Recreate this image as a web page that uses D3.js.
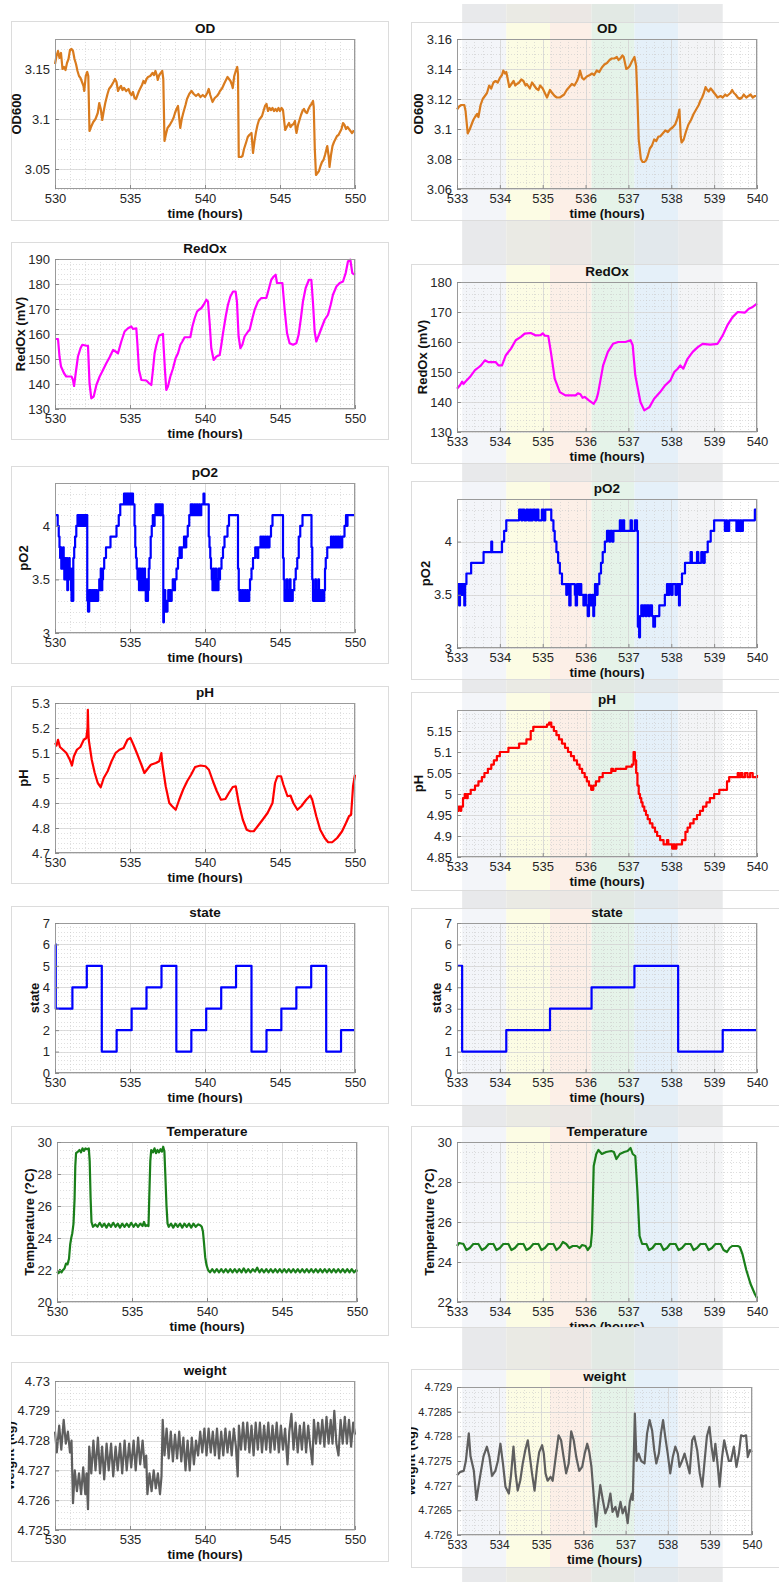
<!DOCTYPE html>
<html>
<head>
<meta charset="utf-8">
<script src="https://cdn.jsdelivr.net/npm/d3@7"></script>
<style>
  body { margin: 0; background: #fff; }
  svg { display: block; }
</style>
</head>
<body>
<div id="fig"></div>
<script>
// ---- data: [time (hours), value] ----
var xTicksLeft = [530, 535, 540, 545, 550];
var xTicksRight = [533, 534, 535, 536, 537, 538, 539, 540];

var odLeft = [[530.0,3.155],[530.1,3.163],[530.2,3.168],[530.3,3.161],[530.4,3.166],[530.5,3.150],[530.6,3.152],[530.7,3.149],[530.8,3.156],[530.9,3.160],[531.0,3.169],[531.1,3.170],[531.2,3.168],[531.3,3.160],[531.4,3.155],[531.5,3.148],[531.6,3.143],[531.7,3.141],[531.8,3.137],[531.9,3.133],[531.95,3.128],[532.05,3.143],[532.15,3.147],[532.22,3.143],[532.3,3.088],[532.4,3.092],[532.55,3.097],[532.7,3.100],[532.85,3.106],[532.95,3.116],[533.05,3.110],[533.15,3.099],[533.25,3.108],[533.35,3.116],[533.5,3.125],[533.6,3.130],[533.75,3.133],[533.9,3.137],[534.0,3.140],[534.1,3.137],[534.2,3.128],[534.3,3.131],[534.4,3.133],[534.5,3.129],[534.6,3.131],[534.75,3.128],[534.9,3.130],[535.0,3.126],[535.1,3.124],[535.2,3.127],[535.3,3.121],[535.4,3.120],[535.5,3.124],[535.6,3.128],[535.7,3.131],[535.8,3.134],[535.9,3.138],[536.0,3.136],[536.1,3.140],[536.2,3.142],[536.35,3.143],[536.5,3.146],[536.6,3.144],[536.7,3.148],[536.8,3.143],[536.85,3.139],[536.95,3.144],[537.05,3.146],[537.15,3.148],[537.22,3.140],[537.3,3.078],[537.4,3.085],[537.5,3.091],[537.65,3.094],[537.8,3.098],[537.9,3.101],[538.0,3.106],[538.1,3.110],[538.2,3.113],[538.3,3.098],[538.35,3.091],[538.45,3.100],[538.55,3.106],[538.7,3.114],[538.8,3.120],[538.95,3.125],[539.1,3.128],[539.25,3.125],[539.4,3.123],[539.55,3.125],[539.7,3.122],[539.85,3.124],[540.0,3.122],[540.15,3.126],[540.25,3.130],[540.35,3.124],[540.5,3.117],[540.65,3.121],[540.8,3.123],[540.9,3.125],[541.0,3.128],[541.15,3.131],[541.3,3.136],[541.4,3.139],[541.5,3.142],[541.6,3.140],[541.7,3.138],[541.8,3.134],[541.85,3.131],[541.95,3.143],[542.05,3.148],[542.15,3.152],[542.2,3.145],[542.25,3.062],[542.4,3.062],[542.5,3.063],[542.6,3.070],[542.75,3.077],[542.85,3.082],[542.95,3.084],[543.1,3.086],[543.2,3.066],[543.3,3.078],[543.4,3.087],[543.5,3.094],[543.6,3.099],[543.7,3.101],[543.8,3.103],[543.9,3.108],[544.0,3.113],[544.1,3.115],[544.2,3.108],[544.3,3.111],[544.4,3.109],[544.5,3.111],[544.6,3.108],[544.7,3.110],[544.8,3.108],[544.9,3.111],[545.0,3.108],[545.1,3.111],[545.2,3.109],[545.3,3.095],[545.35,3.089],[545.45,3.092],[545.6,3.096],[545.7,3.092],[545.8,3.094],[545.9,3.095],[546.0,3.098],[546.05,3.090],[546.1,3.086],[546.2,3.094],[546.3,3.099],[546.4,3.104],[546.5,3.108],[546.6,3.110],[546.7,3.107],[546.8,3.106],[546.9,3.110],[547.0,3.113],[547.1,3.115],[547.2,3.118],[547.25,3.112],[547.32,3.070],[547.4,3.044],[547.5,3.046],[547.6,3.048],[547.7,3.053],[547.8,3.057],[547.9,3.059],[548.0,3.064],[548.1,3.070],[548.15,3.073],[548.25,3.062],[548.3,3.052],[548.4,3.064],[548.5,3.073],[548.6,3.077],[548.7,3.080],[548.8,3.083],[548.9,3.084],[549.0,3.087],[549.1,3.090],[549.2,3.096],[549.3,3.094],[549.4,3.090],[549.5,3.092],[549.6,3.090],[549.7,3.088],[549.8,3.086],[549.9,3.088],[550.0,3.088]];

var odRight = [[533.0,3.113],[533.05,3.115],[533.1,3.116],[533.17,3.116],[533.2,3.112],[533.25,3.097],[533.3,3.100],[533.38,3.106],[533.42,3.108],[533.47,3.110],[533.5,3.108],[533.55,3.116],[533.6,3.120],[533.65,3.122],[533.7,3.124],[533.75,3.129],[533.8,3.127],[533.85,3.131],[533.9,3.132],[533.95,3.131],[534.0,3.134],[534.05,3.136],[534.08,3.139],[534.12,3.137],[534.15,3.138],[534.2,3.131],[534.22,3.128],[534.27,3.130],[534.32,3.132],[534.36,3.129],[534.4,3.130],[534.45,3.131],[534.5,3.133],[534.55,3.132],[534.6,3.129],[534.63,3.130],[534.7,3.127],[534.75,3.131],[534.8,3.129],[534.85,3.127],[534.9,3.126],[534.94,3.129],[535.0,3.127],[535.05,3.124],[535.1,3.121],[535.17,3.126],[535.22,3.124],[535.28,3.122],[535.33,3.121],[535.4,3.121],[535.45,3.122],[535.5,3.123],[535.56,3.126],[535.62,3.128],[535.68,3.130],[535.74,3.129],[535.8,3.132],[535.84,3.135],[535.87,3.139],[535.92,3.134],[535.96,3.133],[536.03,3.135],[536.1,3.136],[536.15,3.137],[536.2,3.136],[536.26,3.139],[536.32,3.138],[536.38,3.141],[536.44,3.143],[536.5,3.144],[536.56,3.146],[536.61,3.147],[536.67,3.147],[536.73,3.148],[536.77,3.146],[536.81,3.147],[536.86,3.149],[536.89,3.148],[536.92,3.144],[536.95,3.140],[537.0,3.141],[537.03,3.142],[537.08,3.145],[537.12,3.147],[537.14,3.148],[537.18,3.142],[537.21,3.120],[537.24,3.093],[537.29,3.080],[537.33,3.078],[537.37,3.078],[537.41,3.079],[537.45,3.082],[537.5,3.087],[537.55,3.089],[537.6,3.093],[537.65,3.092],[537.7,3.095],[537.74,3.095],[537.8,3.097],[537.86,3.099],[537.92,3.098],[537.98,3.100],[538.03,3.101],[538.09,3.103],[538.13,3.106],[538.16,3.109],[538.19,3.113],[538.22,3.095],[538.24,3.091],[538.29,3.093],[538.34,3.098],[538.4,3.103],[538.46,3.106],[538.52,3.110],[538.58,3.113],[538.64,3.116],[538.68,3.119],[538.72,3.121],[538.76,3.124],[538.8,3.128],[538.84,3.126],[538.87,3.125],[538.92,3.127],[538.95,3.126],[539.0,3.124],[539.03,3.123],[539.08,3.121],[539.15,3.122],[539.2,3.121],[539.26,3.123],[539.3,3.122],[539.34,3.123],[539.38,3.124],[539.42,3.126],[539.46,3.124],[539.5,3.123],[539.55,3.121],[539.6,3.120],[539.65,3.121],[539.69,3.123],[539.75,3.121],[539.8,3.122],[539.85,3.123],[539.9,3.121],[539.95,3.122],[540.0,3.122]];

var redoxLeft = [[530.0,158],[530.2,158],[530.3,151],[530.4,147],[530.6,144.3],[530.75,143],[531.1,143],[531.2,141.6],[531.27,139.2],[531.38,144.3],[531.53,151],[531.7,154.3],[531.82,155.7],[532.1,155.3],[532.2,155.3],[532.3,140.3],[532.42,134.3],[532.58,135],[532.76,139.6],[532.98,143],[533.2,145.6],[533.42,148.3],[533.64,150.7],[533.87,153.6],[534.04,153],[534.2,152.3],[534.42,157],[534.64,161],[534.87,162.3],[535.09,163],[535.2,162],[535.42,162.3],[535.49,156.3],[535.6,145.6],[535.76,141.6],[536.09,141.4],[536.27,140.3],[536.42,139.6],[536.53,145.6],[536.64,152.3],[536.76,155.7],[536.93,159.3],[537.2,160],[537.24,155],[537.33,145.6],[537.42,137.6],[537.53,139],[537.69,143],[537.87,146.3],[538.04,150.3],[538.2,152.3],[538.36,155.7],[538.49,157],[538.64,158.7],[538.87,158.7],[539.02,158.7],[539.16,163],[539.31,166.3],[539.47,169],[539.6,169.7],[539.76,170.4],[539.91,171.7],[540.09,173.7],[540.2,173],[540.31,164.3],[540.42,154.3],[540.58,149.6],[540.76,151],[540.98,151.6],[541.09,155.7],[541.2,160.3],[541.38,167],[541.53,171.7],[541.69,175],[541.87,177],[542.04,177],[542.13,173],[542.24,159],[542.36,154.3],[542.49,155.7],[542.64,159],[542.87,161],[542.98,161.7],[543.16,166.3],[543.31,169.7],[543.53,173],[543.76,174.4],[544.09,174.4],[544.27,178.4],[544.42,181.7],[544.58,183],[544.71,183.7],[544.8,180.4],[545.16,180.4],[545.31,169.7],[545.47,160.3],[545.64,156.3],[545.87,155.7],[546.09,156.3],[546.24,159.7],[546.38,165.7],[546.53,173],[546.71,178.4],[546.93,181.7],[547.09,181.7],[547.2,172.4],[547.31,161],[547.42,157],[547.6,159.7],[547.76,162.3],[547.98,165.7],[548.2,167.7],[548.38,171.7],[548.53,175.7],[548.76,179],[548.98,180.4],[549.2,181],[549.38,184.4],[549.53,189],[549.69,189.7],[549.82,184.4],[550.0,183.7]];

var redoxRight = [[533.0,144.4],[533.07,145.6],[533.12,146.8],[533.15,146.0],[533.2,146.8],[533.3,148.3],[533.42,150.6],[533.5,151.5],[533.56,152.2],[533.65,153.9],[533.73,153.3],[533.9,153.3],[533.97,152.2],[534.05,152.2],[534.14,155.6],[534.26,157.8],[534.37,160.6],[534.49,161.7],[534.58,162.8],[534.72,163.0],[534.84,162.2],[534.95,162.3],[535.0,162.9],[535.05,162.1],[535.13,162.0],[535.19,156.7],[535.28,147.8],[535.4,143.3],[535.53,142.2],[535.77,142.2],[535.82,142.9],[535.88,142.6],[535.93,141.4],[535.98,141.7],[536.07,140.6],[536.19,139.4],[536.25,140.8],[536.29,142.8],[536.41,152.2],[536.52,156.7],[536.64,159.4],[536.76,160.0],[536.93,160.0],[537.05,160.6],[537.1,158.9],[537.16,148.9],[537.28,140.0],[537.37,137.2],[537.49,138.3],[537.6,141.1],[537.74,143.3],[537.86,145.6],[537.98,147.2],[538.07,150.0],[538.15,151.1],[538.21,152.2],[538.28,151.1],[538.38,154.4],[538.5,156.7],[538.62,158.3],[538.73,159.4],[538.91,159.1],[539.08,159.4],[539.2,162.2],[539.31,165.6],[539.43,168.3],[539.55,170.0],[539.72,169.8],[539.81,171.1],[539.9,171.7],[540.0,172.8]];

var po2Left = [[530.0,4.1],[530.18,4.0],[530.25,3.9],[530.3,3.8],[530.34,3.7],[530.38,3.8],[530.42,3.6],[530.46,3.7],[530.5,3.6],[530.55,3.8],[530.58,3.6],[530.62,3.5],[530.66,3.7],[530.7,3.5],[530.74,3.6],[530.78,3.7],[530.82,3.4],[530.86,3.6],[530.9,3.5],[530.94,3.7],[530.98,3.5],[531.02,3.6],[531.06,3.4],[531.1,3.3],[531.14,3.6],[531.18,3.3],[531.22,3.7],[531.28,3.8],[531.34,3.9],[531.42,4.0],[531.5,4.1],[531.54,4.0],[531.58,4.1],[531.62,4.0],[531.66,4.1],[531.72,4.0],[531.76,4.1],[531.82,4.0],[531.86,4.1],[531.92,4.0],[531.96,4.1],[532.02,4.0],[532.08,4.1],[532.15,3.3],[532.2,3.2],[532.28,3.4],[532.32,3.3],[532.38,3.4],[532.42,3.3],[532.5,3.4],[532.55,3.3],[532.62,3.4],[532.68,3.3],[532.75,3.4],[532.8,3.3],[532.88,3.4],[532.95,3.5],[533.0,3.4],[533.05,3.6],[533.1,3.4],[533.15,3.5],[533.2,3.6],[533.28,3.7],[533.4,3.8],[533.6,3.8],[533.7,3.9],[534.0,3.9],[534.1,4.0],[534.25,4.1],[534.35,4.2],[534.6,4.3],[534.64,4.2],[534.68,4.3],[534.72,4.2],[534.76,4.3],[534.8,4.2],[534.84,4.3],[534.9,4.2],[534.94,4.3],[535.0,4.2],[535.04,4.3],[535.1,4.2],[535.14,4.3],[535.2,4.2],[535.3,4.0],[535.35,3.8],[535.4,3.7],[535.45,3.6],[535.5,3.5],[535.55,3.6],[535.6,3.4],[535.65,3.6],[535.7,3.5],[535.75,3.4],[535.8,3.6],[535.85,3.4],[535.9,3.5],[535.95,3.6],[536.0,3.4],[536.05,3.3],[536.1,3.5],[536.15,3.3],[536.2,3.4],[536.25,3.6],[536.3,3.7],[536.38,3.9],[536.45,4.0],[536.52,4.1],[536.6,4.0],[536.64,4.1],[536.7,4.2],[536.75,4.1],[536.8,4.2],[536.85,4.1],[536.9,4.2],[536.95,4.1],[537.0,4.2],[537.05,4.1],[537.12,4.2],[537.18,4.1],[537.22,3.1],[537.26,3.3],[537.3,3.4],[537.35,3.2],[537.4,3.3],[537.45,3.2],[537.5,3.3],[537.55,3.4],[537.6,3.3],[537.65,3.4],[537.72,3.3],[537.78,3.4],[537.85,3.5],[537.95,3.4],[538.0,3.5],[538.1,3.6],[538.2,3.7],[538.3,3.8],[538.4,3.7],[538.45,3.8],[538.6,3.9],[538.7,3.8],[538.75,3.9],[538.85,4.0],[538.95,4.1],[539.05,4.2],[539.1,4.1],[539.15,4.2],[539.2,4.1],[539.3,4.2],[539.35,4.1],[539.45,4.2],[539.5,4.1],[539.6,4.2],[539.65,4.1],[539.75,4.2],[539.9,4.3],[539.96,4.2],[540.25,3.9],[540.3,3.8],[540.35,3.7],[540.4,3.6],[540.45,3.5],[540.5,3.4],[540.55,3.6],[540.6,3.4],[540.65,3.5],[540.7,3.6],[540.75,3.4],[540.8,3.5],[540.85,3.4],[540.9,3.6],[540.95,3.5],[541.0,3.6],[541.1,3.7],[541.2,3.8],[541.3,3.9],[541.5,4.0],[541.6,4.1],[542.2,3.6],[542.25,3.4],[542.3,3.3],[542.35,3.4],[542.4,3.3],[542.5,3.4],[542.55,3.3],[542.65,3.4],[542.7,3.3],[542.8,3.4],[542.85,3.3],[542.95,3.4],[543.0,3.5],[543.1,3.6],[543.2,3.7],[543.35,3.8],[543.5,3.7],[543.55,3.8],[543.7,3.9],[543.75,3.8],[543.85,3.9],[543.9,3.8],[544.0,3.9],[544.05,3.8],[544.15,3.9],[544.2,3.8],[544.3,3.9],[544.4,4.0],[544.5,4.1],[545.2,3.7],[545.25,3.5],[545.3,3.3],[545.35,3.4],[545.4,3.3],[545.45,3.5],[545.5,3.3],[545.55,3.4],[545.6,3.3],[545.65,3.5],[545.7,3.3],[545.75,3.4],[545.8,3.3],[545.85,3.4],[545.95,3.5],[546.05,3.6],[546.15,3.7],[546.25,3.9],[546.35,4.0],[546.5,4.1],[547.1,3.8],[547.15,3.5],[547.2,3.3],[547.25,3.4],[547.3,3.3],[547.35,3.5],[547.4,3.3],[547.45,3.4],[547.5,3.3],[547.55,3.5],[547.6,3.3],[547.65,3.4],[547.7,3.3],[547.8,3.4],[547.85,3.3],[547.95,3.4],[548.0,3.6],[548.05,3.7],[548.15,3.8],[548.4,3.9],[548.45,3.8],[548.55,3.9],[548.6,3.8],[548.7,3.9],[548.75,3.8],[548.85,3.9],[548.9,3.8],[549.0,3.9],[549.05,3.8],[549.15,3.9],[549.3,4.0],[549.4,4.1],[549.45,4.0],[549.5,4.1],[550.0,4.1]];

var po2Right = [[533.0,3.5],[533.03,3.6],[533.05,3.4],[533.07,3.6],[533.09,3.5],[533.11,3.6],[533.13,3.5],[533.15,3.6],[533.17,3.4],[533.19,3.6],[533.22,3.7],[533.33,3.8],[533.62,3.9],[533.8,4.0],[533.82,3.9],[534.05,4.0],[534.1,4.1],[534.15,4.2],[534.45,4.3],[534.5,4.2],[534.53,4.3],[534.57,4.2],[534.62,4.3],[534.66,4.2],[534.7,4.3],[534.73,4.2],[534.77,4.3],[534.82,4.2],[534.86,4.3],[534.9,4.2],[534.98,4.3],[535.02,4.2],[535.06,4.3],[535.2,4.2],[535.25,4.1],[535.28,4.0],[535.32,3.9],[535.36,3.8],[535.4,3.7],[535.45,3.6],[535.55,3.5],[535.57,3.6],[535.62,3.4],[535.65,3.6],[535.75,3.5],[535.77,3.4],[535.8,3.6],[535.85,3.5],[535.87,3.6],[535.9,3.5],[535.95,3.4],[535.98,3.5],[536.02,3.4],[536.05,3.3],[536.08,3.5],[536.12,3.4],[536.16,3.5],[536.18,3.3],[536.2,3.4],[536.22,3.6],[536.25,3.5],[536.28,3.6],[536.32,3.7],[536.36,3.8],[536.4,3.9],[536.45,4.0],[536.5,4.1],[536.55,4.0],[536.58,4.1],[536.62,4.0],[536.65,4.1],[536.8,4.2],[536.83,4.1],[536.87,4.2],[536.9,4.1],[537.05,4.2],[537.08,4.1],[537.15,4.2],[537.2,4.1],[537.22,3.2],[537.25,3.1],[537.27,3.3],[537.3,3.4],[537.33,3.3],[537.36,3.4],[537.4,3.3],[537.43,3.4],[537.47,3.3],[537.5,3.4],[537.55,3.3],[537.58,3.2],[537.62,3.3],[537.72,3.4],[537.85,3.5],[537.9,3.6],[537.93,3.5],[537.96,3.6],[538.0,3.5],[538.03,3.6],[538.1,3.5],[538.13,3.6],[538.18,3.4],[538.2,3.6],[538.25,3.7],[538.32,3.8],[538.45,3.9],[538.48,3.8],[538.6,3.9],[538.63,3.8],[538.7,3.9],[538.74,3.8],[538.78,3.9],[538.85,4.0],[538.92,4.1],[539.0,4.2],[539.25,4.1],[539.28,4.2],[539.3,4.1],[539.35,4.2],[539.52,4.1],[539.55,4.2],[539.57,4.1],[539.6,4.2],[539.63,4.1],[539.67,4.2],[539.95,4.3],[540.0,4.3]];

var phLeft = [[530.0,5.14],[530.1,5.13],[530.2,5.153],[530.33,5.124],[530.53,5.113],[530.76,5.1],[530.99,5.073],[531.13,5.05],[531.26,5.087],[531.46,5.113],[531.69,5.124],[531.92,5.153],[532.09,5.16],[532.17,5.2],[532.19,5.273],[532.22,5.2],[532.25,5.153],[532.45,5.073],[532.65,5.02],[532.85,4.98],[533.05,4.963],[533.25,5.0],[533.51,5.027],[533.77,5.067],[534.04,5.1],[534.3,5.113],[534.57,5.12],[534.83,5.153],[535.03,5.16],[535.23,5.133],[535.5,5.093],[535.76,5.053],[535.96,5.02],[536.13,5.033],[536.39,5.053],[536.72,5.06],[536.95,5.067],[537.09,5.1],[537.15,5.06],[537.38,4.967],[537.62,4.9],[537.81,4.887],[538.05,4.873],[538.28,4.913],[538.54,4.953],[538.81,4.987],[539.07,5.013],[539.34,5.044],[539.7,5.05],[540.03,5.047],[540.26,5.033],[540.53,4.987],[540.79,4.947],[541.06,4.913],[541.36,4.916],[541.59,4.94],[541.85,4.964],[542.05,4.967],[542.25,4.9],[542.52,4.833],[542.78,4.793],[543.01,4.787],[543.25,4.787],[543.51,4.807],[543.84,4.833],[544.17,4.86],[544.5,4.9],[544.67,4.98],[544.83,5.007],[545.07,5.007],[545.23,4.973],[545.5,4.927],[545.7,4.93],[545.89,4.9],[546.16,4.873],[546.42,4.887],[546.75,4.913],[547.02,4.93],[547.15,4.913],[547.42,4.847],[547.68,4.793],[547.98,4.76],[548.21,4.743],[548.48,4.743],[548.81,4.76],[549.14,4.787],[549.4,4.82],[549.6,4.847],[549.74,4.853],[549.87,4.967],[550.0,5.013]];

var phRight = [[533.0,4.96],[533.04,4.97],[533.08,4.96],[533.1,4.97],[533.14,4.99],[533.18,5.0],[533.22,4.99],[533.25,5.0],[533.32,5.01],[533.42,5.02],[533.5,5.03],[533.58,5.04],[533.64,5.05],[533.72,5.06],[533.8,5.07],[533.86,5.08],[533.93,5.09],[534.0,5.1],[534.2,5.11],[534.45,5.12],[534.62,5.13],[534.72,5.15],[534.78,5.16],[535.1,5.165],[535.15,5.17],[535.2,5.16],[535.26,5.15],[535.32,5.14],[535.38,5.13],[535.45,5.12],[535.52,5.11],[535.59,5.1],[535.66,5.09],[535.73,5.08],[535.8,5.07],[535.86,5.06],[535.92,5.05],[535.98,5.04],[536.03,5.03],[536.08,5.02],[536.13,5.01],[536.18,5.02],[536.24,5.03],[536.32,5.04],[536.4,5.05],[536.6,5.06],[536.64,5.055],[536.7,5.06],[536.95,5.065],[537.08,5.07],[537.12,5.1],[537.15,5.08],[537.18,5.05],[537.21,5.02],[537.24,5.0],[537.27,4.99],[537.3,4.98],[537.33,4.97],[537.37,4.96],[537.41,4.95],[537.45,4.94],[537.5,4.93],[537.56,4.92],[537.62,4.91],[537.67,4.9],[537.74,4.89],[537.82,4.88],[537.9,4.89],[537.93,4.88],[538.02,4.87],[538.05,4.88],[538.08,4.87],[538.12,4.88],[538.25,4.89],[538.33,4.91],[538.38,4.92],[538.44,4.93],[538.52,4.94],[538.6,4.95],[538.67,4.96],[538.74,4.97],[538.82,4.98],[538.9,4.99],[539.0,5.0],[539.12,5.01],[539.3,5.03],[539.35,5.04],[539.55,5.05],[539.58,5.04],[539.62,5.05],[539.66,5.04],[539.72,5.05],[539.78,5.04],[539.84,5.05],[539.9,5.04],[540.0,5.045]];

var stateLeft = [[530.0,6],[530.05,3],[531.16,4],[532.12,5],[533.12,1],[534.11,2],[535.11,3],[536.1,4],[537.1,5],[538.09,1],[539.09,2],[540.08,3],[541.08,4],[542.07,5],[543.1,1],[544.1,2],[545.09,3],[546.09,4],[547.08,5],[548.08,1],[549.07,2],[550.0,2]];
var stateRight = [[533.0,5],[533.12,1],[534.15,2],[535.17,3],[536.14,4],[537.14,5],[538.16,1],[539.2,2],[540.0,2]];

var tempLeft = [[530.0,21.9],[530.1,21.8],[530.2,22.0],[530.3,21.85],[530.4,22.0],[530.5,22.1],[530.6,22.4],[530.7,22.35],[530.8,22.7],[530.88,23.6],[530.95,24.0],[531.02,24.3],[531.1,24.9],[531.17,26.4],[531.22,28.5],[531.27,29.3],[531.4,29.4],[531.5,29.5],[531.6,29.35],[531.7,29.6],[531.8,29.45],[531.9,29.6],[532.0,29.55],[532.12,29.6],[532.18,28.8],[532.24,26.5],[532.3,25.0],[532.4,24.7],[532.55,24.85],[532.7,24.7],[532.85,24.95],[533.0,24.7],[533.15,24.9],[533.3,24.65],[533.45,24.9],[533.6,24.7],[533.75,24.95],[533.9,24.7],[534.05,24.9],[534.2,24.65],[534.35,24.9],[534.5,24.7],[534.65,24.9],[534.8,24.7],[534.95,24.95],[535.1,24.7],[535.25,24.9],[535.4,24.7],[535.55,24.9],[535.7,24.75],[535.8,25.0],[535.9,24.75],[536.0,24.8],[536.1,24.75],[536.15,26.5],[536.22,28.8],[536.28,29.5],[536.4,29.35],[536.5,29.6],[536.6,29.3],[536.7,29.5],[536.8,29.35],[536.9,29.55],[537.0,29.4],[537.08,29.7],[537.16,29.4],[537.22,28.0],[537.3,26.0],[537.37,24.9],[537.45,24.7],[537.6,24.9],[537.75,24.65],[537.9,24.9],[538.05,24.7],[538.2,24.9],[538.35,24.65],[538.5,24.9],[538.65,24.7],[538.8,24.9],[538.95,24.65],[539.1,24.9],[539.25,24.7],[539.4,24.85],[539.55,24.8],[539.65,24.7],[539.73,24.4],[539.8,23.7],[539.88,22.8],[539.97,22.3],[540.07,22.0],[540.2,21.85],[540.35,22.05],[540.5,21.85],[540.65,22.05],[540.8,21.85],[540.95,22.05],[541.1,21.85],[541.25,22.05],[541.4,21.85],[541.55,22.05],[541.7,21.85],[541.85,22.05],[542.0,21.85],[542.15,22.05],[542.3,21.85],[542.45,22.1],[542.6,21.85],[542.75,22.05],[542.9,21.85],[543.05,22.05],[543.2,21.9],[543.35,22.15],[543.5,21.85],[543.65,22.05],[543.8,21.85],[543.95,22.05],[544.1,21.85],[544.25,22.05],[544.4,21.85],[544.55,22.05],[544.7,21.85],[544.85,22.05],[545.0,21.85],[545.15,22.05],[545.3,21.85],[545.45,22.05],[545.6,21.85],[545.75,22.05],[545.9,21.85],[546.05,22.05],[546.2,21.85],[546.35,22.05],[546.5,21.85],[546.65,22.05],[546.8,21.85],[546.95,22.05],[547.1,21.85],[547.25,22.05],[547.4,21.85],[547.55,22.05],[547.7,21.85],[547.85,22.05],[548.0,21.85],[548.15,22.05],[548.3,21.85],[548.45,22.05],[548.6,21.85],[548.75,22.05],[548.9,21.85],[549.05,22.05],[549.2,21.85],[549.35,22.05],[549.5,21.85],[549.65,22.05],[549.8,21.85],[549.95,22.0],[550.0,21.9]];

var tempRight = [[533.0,24.8],[533.05,24.95],[533.15,24.9],[533.22,24.6],[533.3,24.7],[533.38,24.9],[533.5,24.9],[533.58,24.6],[533.66,24.7],[533.74,24.9],[533.85,24.9],[533.92,24.6],[534.0,24.7],[534.08,24.9],[534.2,24.9],[534.27,24.6],[534.35,24.7],[534.43,24.9],[534.55,24.9],[534.62,24.6],[534.7,24.7],[534.78,24.9],[534.9,24.9],[534.97,24.6],[535.05,24.7],[535.13,24.9],[535.25,24.9],[535.32,24.6],[535.4,24.75],[535.47,25.0],[535.55,24.9],[535.62,24.7],[535.7,24.8],[535.8,24.8],[535.86,24.7],[535.92,24.85],[536.0,24.8],[536.05,24.6],[536.12,24.8],[536.15,25.5],[536.19,28.8],[536.25,29.4],[536.3,29.6],[536.38,29.4],[536.48,29.5],[536.6,29.55],[536.66,29.5],[536.72,29.15],[536.8,29.4],[536.9,29.5],[536.98,29.55],[537.05,29.7],[537.1,29.4],[537.16,29.3],[537.21,27.5],[537.26,25.3],[537.32,24.9],[537.42,24.9],[537.48,24.6],[537.56,24.7],[537.63,24.9],[537.75,24.9],[537.82,24.6],[537.9,24.7],[537.97,24.9],[538.1,24.9],[538.17,24.6],[538.25,24.7],[538.33,24.9],[538.45,24.9],[538.52,24.6],[538.6,24.7],[538.68,24.9],[538.8,24.9],[538.87,24.6],[538.95,24.7],[539.03,24.9],[539.15,24.9],[539.22,24.6],[539.3,24.5],[539.36,24.7],[539.42,24.8],[539.55,24.8],[539.6,24.75],[539.66,24.4],[539.75,23.6],[539.85,22.9],[539.95,22.4],[540.0,22.2]];

var weightLeft = [[530.0,4.7283],[530.12,4.7276],[530.28,4.7285],[530.42,4.7277],[530.58,4.7287],[530.72,4.7279],[530.86,4.7283],[531.0,4.7276],[531.1,4.7280],[531.2,4.7259],[531.32,4.7270],[531.46,4.7263],[531.6,4.7269],[531.74,4.7262],[531.88,4.7271],[532.02,4.7262],[532.1,4.7269],[532.2,4.7257],[532.28,4.7278],[532.42,4.7269],[532.56,4.7280],[532.7,4.7270],[532.86,4.7281],[533.0,4.7269],[533.14,4.7278],[533.28,4.7267],[533.44,4.7279],[533.58,4.7270],[533.74,4.7279],[533.88,4.7268],[534.04,4.7278],[534.18,4.7270],[534.34,4.7279],[534.48,4.7269],[534.64,4.7280],[534.78,4.7270],[534.94,4.7279],[535.08,4.7271],[535.24,4.7280],[535.38,4.7270],[535.54,4.7281],[535.68,4.7272],[535.84,4.7280],[535.98,4.7271],[536.08,4.7275],[536.16,4.7262],[536.3,4.7269],[536.44,4.7263],[536.58,4.7270],[536.72,4.7264],[536.86,4.7269],[537.0,4.7262],[537.1,4.7268],[537.18,4.7287],[537.3,4.7275],[537.44,4.7284],[537.58,4.7274],[537.72,4.7283],[537.86,4.7273],[538.0,4.7282],[538.14,4.7274],[538.28,4.7283],[538.42,4.7273],[538.56,4.7281],[538.7,4.7270],[538.84,4.7280],[538.98,4.7270],[539.12,4.7281],[539.26,4.7272],[539.4,4.7280],[539.54,4.7275],[539.68,4.7283],[539.82,4.7276],[539.96,4.7284],[540.1,4.7275],[540.24,4.7284],[540.38,4.7276],[540.52,4.7283],[540.66,4.7275],[540.8,4.7284],[540.94,4.7274],[541.08,4.7283],[541.22,4.7275],[541.36,4.7284],[541.5,4.7276],[541.64,4.7283],[541.78,4.7275],[541.92,4.7284],[542.06,4.7278],[542.18,4.7268],[542.26,4.7285],[542.4,4.7277],[542.54,4.7286],[542.68,4.7277],[542.82,4.7286],[542.96,4.7276],[543.1,4.7285],[543.24,4.7275],[543.38,4.7286],[543.52,4.7277],[543.66,4.7286],[543.8,4.7276],[543.94,4.7285],[544.08,4.7277],[544.22,4.7286],[544.36,4.7276],[544.5,4.7285],[544.64,4.7277],[544.78,4.7286],[544.92,4.7276],[545.06,4.7285],[545.2,4.7277],[545.34,4.7284],[545.5,4.7272],[545.62,4.7283],[545.76,4.7289],[545.9,4.7277],[546.04,4.7286],[546.18,4.7276],[546.32,4.7285],[546.46,4.7277],[546.6,4.7286],[546.74,4.7276],[546.88,4.7285],[547.02,4.7278],[547.16,4.7272],[547.26,4.7287],[547.4,4.7279],[547.54,4.7286],[547.68,4.7279],[547.82,4.7287],[547.96,4.7278],[548.1,4.7288],[548.24,4.7279],[548.38,4.7287],[548.5,4.7279],[548.62,4.7290],[548.76,4.7279],[548.9,4.7275],[549.04,4.7287],[549.18,4.7279],[549.32,4.7288],[549.46,4.7279],[549.6,4.7287],[549.74,4.7278],[549.88,4.7286],[550.0,4.7282]];

var weightRight = [[533.0,4.72721],[533.08,4.72728],[533.16,4.7273],[533.21,4.7275],[533.28,4.72806],[533.32,4.7276],[533.4,4.7273],[533.46,4.72671],[533.51,4.72698],[533.55,4.7272],[533.63,4.7276],[533.71,4.72779],[533.77,4.72758],[533.83,4.7272],[533.91,4.7273],[533.97,4.7275],[534.03,4.72785],[534.09,4.72745],[534.15,4.72698],[534.23,4.72684],[534.28,4.7272],[534.34,4.72779],[534.39,4.72725],[534.44,4.7269],[534.5,4.7271],[534.56,4.72745],[534.62,4.72772],[534.68,4.72792],[534.72,4.72765],[534.78,4.72725],[534.84,4.7269],[534.9,4.72738],[534.95,4.72768],[535.02,4.72782],[535.06,4.72765],[535.1,4.72725],[535.15,4.7271],[535.22,4.72718],[535.27,4.7271],[535.33,4.7275],[535.41,4.72802],[535.47,4.72792],[535.53,4.72758],[535.59,4.72725],[535.65,4.72745],[535.71,4.7281],[535.77,4.72792],[535.83,4.72758],[535.9,4.7273],[535.97,4.72738],[536.03,4.72765],[536.09,4.72785],[536.14,4.72768],[536.19,4.72738],[536.24,4.72684],[536.3,4.72617],[536.35,4.72664],[536.4,4.72701],[536.46,4.72671],[536.52,4.72644],[536.58,4.72657],[536.64,4.72684],[536.69,4.72647],[536.76,4.72657],[536.81,4.72637],[536.88,4.72667],[536.93,4.72644],[536.99,4.72657],[537.05,4.72624],[537.1,4.72667],[537.15,4.72684],[537.17,4.72671],[537.22,4.72846],[537.26,4.7275],[537.31,4.72765],[537.37,4.7275],[537.45,4.72745],[537.51,4.72806],[537.57,4.72833],[537.63,4.72812],[537.68,4.72772],[537.73,4.72745],[537.79,4.72765],[537.84,4.72806],[537.89,4.72833],[537.94,4.728],[538.0,4.72765],[538.06,4.72725],[538.12,4.72758],[538.18,4.72779],[538.24,4.72765],[538.28,4.72738],[538.34,4.7275],[538.4,4.72765],[538.46,4.72745],[538.52,4.72725],[538.58,4.72792],[538.63,4.728],[538.7,4.72772],[538.76,4.72725],[538.82,4.72698],[538.87,4.72745],[538.93,4.728],[538.99,4.72819],[539.04,4.72779],[539.09,4.7275],[539.13,4.72785],[539.19,4.72738],[539.23,4.72698],[539.29,4.72758],[539.34,4.72792],[539.39,4.72772],[539.45,4.7275],[539.5,4.7275],[539.57,4.72779],[539.63,4.72738],[539.69,4.72765],[539.74,4.72802],[539.8,4.728],[539.86,4.72802],[539.9,4.72758],[539.95,4.72772],[540.0,4.72768]];

// y tick labels
var odLeftTicks = [3.05, 3.1, 3.15];
var odRightTicks = [3.06, 3.08, 3.1, 3.12, 3.14, 3.16];
var redoxLeftTicks = [130, 140, 150, 160, 170, 180, 190];
var redoxRightTicks = [130, 140, 150, 160, 170, 180];
var po2Ticks = [3, 3.5, 4];
var phLeftTicks = [4.7, 4.8, 4.9, 5, 5.1, 5.2, 5.3];
var phRightTicks = [4.85, 4.9, 4.95, 5, 5.05, 5.1, 5.15];
var stateTicks = [0, 1, 2, 3, 4, 5, 6, 7];
var tempLeftTicks = [20, 22, 24, 26, 28, 30];
var tempRightTicks = [22, 24, 26, 28, 30];
var weightLeftTicks = [4.725, 4.726, 4.727, 4.728, 4.729, 4.73];
var weightRightTicks = [4.726, 4.7265, 4.727, 4.7275, 4.728, 4.7285, 4.729];

// shaded state periods on the right column (pastel inside cards, grey outside)
var bandFill = ["#f3f5f9", "#fcfce4", "#fcefe7", "#e5f3e9", "#e5f0f9", "#f3f4f6"];
var bandShade = ["#e8e9eb", "#eaeae4", "#ebe7e4", "#e2e9e4", "#e2e8ec", "#e8e9ea"];

// ---- layout ----
var FONT = "'Liberation Sans', Arial, Helvetica, sans-serif";
var W = 779, H = 1582;
var L = {cx: 11, cw: 377, px: 55, pw: 300};
var R = {cx: 411, cw: 400, px: 457, pw: 300};

var panels = [
  {col: L, cy: 21, ch: 199, py: 39, ph: 150, title: "OD", ylab: "OD600", color: "#d97b1e", data: odLeft, xd: [530, 550], xt: xTicksLeft, xm: 1, yd: [3.03, 3.18], yt: odLeftTicks, ym: 0.01},
  {col: R, cy: 22, ch: 198, py: 39, ph: 150, title: "OD", ylab: "OD600", color: "#d97b1e", data: odRight, xd: [533, 540], xt: xTicksRight, xm: 0.2, yd: [3.06, 3.16], yt: odRightTicks, ym: 0.005},
  {col: L, cy: 242, ch: 197, py: 259, ph: 150, title: "RedOx", ylab: "RedOx (mV)", color: "#ff00ff", data: redoxLeft, xd: [530, 550], xt: xTicksLeft, xm: 1, yd: [130, 190], yt: redoxLeftTicks, ym: 2},
  {col: R, cy: 264, ch: 199, py: 282, ph: 150, title: "RedOx", ylab: "RedOx (mV)", color: "#ff00ff", data: redoxRight, xd: [533, 540], xt: xTicksRight, xm: 0.2, yd: [130, 180], yt: redoxRightTicks, ym: 2},
  {col: L, cy: 466, ch: 197, py: 483, ph: 150, title: "pO2", ylab: "pO2", color: "#0000ff", data: po2Left, step: true, xd: [530, 550], xt: xTicksLeft, xm: 1, yd: [3, 4.4], yt: po2Ticks, ym: 0.1},
  {col: R, cy: 481, ch: 198, py: 499, ph: 149, title: "pO2", ylab: "pO2", color: "#0000ff", data: po2Right, step: true, xd: [533, 540], xt: xTicksRight, xm: 0.2, yd: [3, 4.4], yt: po2Ticks, ym: 0.1},
  {col: L, cy: 686, ch: 197, py: 703, ph: 150, title: "pH", ylab: "pH", color: "#ff0000", data: phLeft, xd: [530, 550], xt: xTicksLeft, xm: 1, yd: [4.7, 5.3], yt: phLeftTicks, ym: 0.02},
  {col: R, cy: 692, ch: 198, py: 710, ph: 147, title: "pH", ylab: "pH", color: "#ff0000", data: phRight, step: true, xd: [533, 540], xt: xTicksRight, xm: 0.2, yd: [4.85, 5.2], yt: phRightTicks, ym: 0.01},
  {col: L, cy: 906, ch: 197, py: 923, ph: 150, title: "state", ylab: "state", color: "#0000ff", data: stateLeft, step: true, xd: [530, 550], xt: xTicksLeft, xm: 1, yd: [0, 7], yt: stateTicks, ym: 0.2},
  {col: R, cy: 908, ch: 197, py: 923, ph: 150, title: "state", ylab: "state", color: "#0000ff", data: stateRight, step: true, xd: [533, 540], xt: xTicksRight, xm: 0.2, yd: [0, 7], yt: stateTicks, ym: 0.2},
  {col: L, cy: 1126, ch: 209, py: 1142, ph: 160, pxo: 2, title: "Temperature", ylab: "Temperature (?C)", color: "#1a7f1a", data: tempLeft, xd: [530, 550], xt: xTicksLeft, xm: 1, yd: [20, 30], yt: tempLeftTicks, ym: 0.5},
  {col: R, cy: 1126, ch: 201, py: 1142, ph: 160, title: "Temperature", ylab: "Temperature (?C)", color: "#1a7f1a", data: tempRight, xd: [533, 540], xt: xTicksRight, xm: 0.2, yd: [22, 30], yt: tempRightTicks, ym: 0.5},
  {col: L, cy: 1362, ch: 199, py: 1381, ph: 149, title: "weight", ylab: "weight (kg)", color: "#5f5f5f", data: weightLeft, xd: [530, 550], xt: xTicksLeft, xm: 1, yd: [4.725, 4.73], yt: weightLeftTicks, ym: 0.0002},
  {col: R, cy: 1369, ch: 198, py: 1387, ph: 148, pwo: -5, yfs: 11, xfs: 12, title: "weight", ylab: "weight (kg)", color: "#5f5f5f", data: weightRight, xd: [533, 540], xt: xTicksRight, xm: 0.2, yd: [4.726, 4.729], yt: weightRightTicks, ym: 0.0001}
];

var svg = d3.select("#fig").append("svg")
    .attr("width", W)
    .attr("height", H)
    .style("font-family", FONT);
var defs = svg.append("defs");

svg.append("rect").attr("width", W).attr("height", H).attr("fill", "#fff");

// state periods of the zoomed window, taken from the state series
var bandX = d3.scaleLinear().domain([533, 540]).range([R.px, R.px + R.pw]);
var bands = [];
for (var i = 1; i < stateRight.length - 2; i++) {
    bands.push([stateRight[i][0], stateRight[i + 1][0]]);
}

// grey columns behind the right-hand cards
svg.append("g").selectAll("rect")
    .data(bands)
    .enter().append("rect")
    .attr("x", function(d) { return bandX(d[0]); })
    .attr("width", function(d) { return bandX(d[1]) - bandX(d[0]); })
    .attr("y", 4)
    .attr("height", H - 4)
    .attr("fill", function(d, i) { return bandShade[i]; });

var fmt = d3.format("~g");

function minorSteps(dom, st) {
    var a = Math.ceil(dom[0] / st - 1e-6), b = Math.floor(dom[1] / st + 1e-6);
    return d3.range(a, b + 1).map(function(k) { return +(k * st).toFixed(6); });
}

panels.forEach(function(p, idx) {
    var c = p.col;
    var px = c.px + (p.pxo || 0), pw = c.pw + (p.pwo || 0);
    var g = svg.append("g");

    defs.append("clipPath").attr("id", "card" + idx)
        .append("rect").attr("x", c.cx).attr("y", p.cy).attr("width", c.cw).attr("height", p.ch);

    // card
    g.append("rect")
        .attr("x", c.cx + 0.5).attr("y", p.cy + 0.5)
        .attr("width", c.cw).attr("height", p.ch)
        .attr("fill", "#fff")
        .attr("stroke", "#dcdcdc");

    var cg = g.append("g").attr("clip-path", "url(#card" + idx + ")");

    if (c === R) {
        cg.append("g").selectAll("rect")
            .data(bands)
            .enter().append("rect")
            .attr("x", function(d) { return bandX(d[0]); })
            .attr("width", function(d) { return bandX(d[1]) - bandX(d[0]); })
            .attr("y", p.cy + 1)
            .attr("height", p.ch - 1)
            .attr("fill", function(d, i) { return bandFill[i]; });
    }

    var x = d3.scaleLinear().domain(p.xd).range([px, px + pw]);
    var y = d3.scaleLinear().domain(p.yd).range([p.py + p.ph, p.py]);

    // minor grid
    var mg = cg.append("g")
        .attr("stroke", "#c9c9c9")
        .attr("stroke-width", 0.6)
        .attr("stroke-dasharray", "1,2");
    mg.selectAll(".mx").data(minorSteps(p.xd, p.xm)).enter().append("line")
        .attr("x1", function(d) { return Math.round(x(d)) + 0.5; })
        .attr("x2", function(d) { return Math.round(x(d)) + 0.5; })
        .attr("y1", p.py).attr("y2", p.py + p.ph);
    mg.selectAll(".my").data(minorSteps(p.yd, p.ym)).enter().append("line")
        .attr("y1", function(d) { return Math.round(y(d)) + 0.5; })
        .attr("y2", function(d) { return Math.round(y(d)) + 0.5; })
        .attr("x1", px).attr("x2", px + pw);

    // major grid
    var gg = cg.append("g").attr("stroke", "#d4d4d4").attr("stroke-width", 0.8);
    gg.selectAll(".gx").data(p.xt).enter().append("line")
        .attr("x1", function(d) { return Math.round(x(d)) + 0.5; })
        .attr("x2", function(d) { return Math.round(x(d)) + 0.5; })
        .attr("y1", p.py).attr("y2", p.py + p.ph);
    gg.selectAll(".gy").data(p.yt).enter().append("line")
        .attr("y1", function(d) { return Math.round(y(d)) + 0.5; })
        .attr("y2", function(d) { return Math.round(y(d)) + 0.5; })
        .attr("x1", px).attr("x2", px + pw);

    // series
    cg.append("path")
        .datum(p.data)
        .attr("fill", "none")
        .attr("stroke", p.color)
        .attr("stroke-width", 2.2)
        .attr("stroke-linejoin", "round")
        .attr("d", d3.line()
            .curve(p.step ? d3.curveStepAfter : d3.curveLinear)
            .x(function(d) { return x(d[0]); })
            .y(function(d) { return y(d[1]); }));

    // box
    cg.append("rect")
        .attr("x", px + 0.5).attr("y", p.py + 0.5)
        .attr("width", pw - 1).attr("height", p.ph - 1)
        .attr("fill", "none")
        .attr("stroke", "#9a9a9a")
        .attr("stroke-width", 1);

    // axes
    var ax = cg.append("g")
        .attr("transform", "translate(0," + (p.py + p.ph) + ")")
        .call(d3.axisBottom(x).tickValues(p.xt).tickFormat(fmt)
            .tickSizeInner(-4).tickSizeOuter(0).tickPadding(5));
    ax.attr("font-family", FONT).attr("font-size", p.xfs || 13);
    ax.select(".domain").remove();
    ax.selectAll("line").attr("stroke", "#8a8a8a");
    ax.selectAll("text").attr("fill", "#262626");

    var ay = cg.append("g")
        .attr("transform", "translate(" + px + ",0)")
        .call(d3.axisLeft(y).tickValues(p.yt).tickFormat(fmt)
            .tickSizeInner(-4).tickSizeOuter(0).tickPadding(5));
    ay.attr("font-family", FONT).attr("font-size", p.yfs || 13);
    ay.select(".domain").remove();
    ay.selectAll("line").attr("stroke", "#8a8a8a");
    ay.selectAll("text").attr("fill", "#262626");

    var maxW = 0;
    ay.selectAll("text").each(function() { maxW = Math.max(maxW, this.getBBox().width); });

    // title and labels
    cg.append("text")
        .attr("x", px + pw / 2)
        .attr("y", p.py - 6)
        .attr("text-anchor", "middle")
        .style("font-size", "13.5px")
        .style("font-weight", "bold")
        .attr("fill", "#111")
        .text(p.title);

    cg.append("text")
        .attr("x", px + pw / 2)
        .attr("y", p.py + p.ph + 29)
        .attr("text-anchor", "middle")
        .style("font-size", "13px")
        .style("font-weight", "bold")
        .attr("fill", "#111")
        .text("time (hours)");

    var lx = px - 5 - maxW - 8;
    cg.append("text")
        .attr("transform", "translate(" + lx + "," + (p.py + p.ph / 2) + ") rotate(-90)")
        .attr("dy", "0.35em")
        .attr("text-anchor", "middle")
        .style("font-size", "13px")
        .style("font-weight", "bold")
        .attr("fill", "#111")
        .text(p.ylab);
});
</script>
</body>
</html>
